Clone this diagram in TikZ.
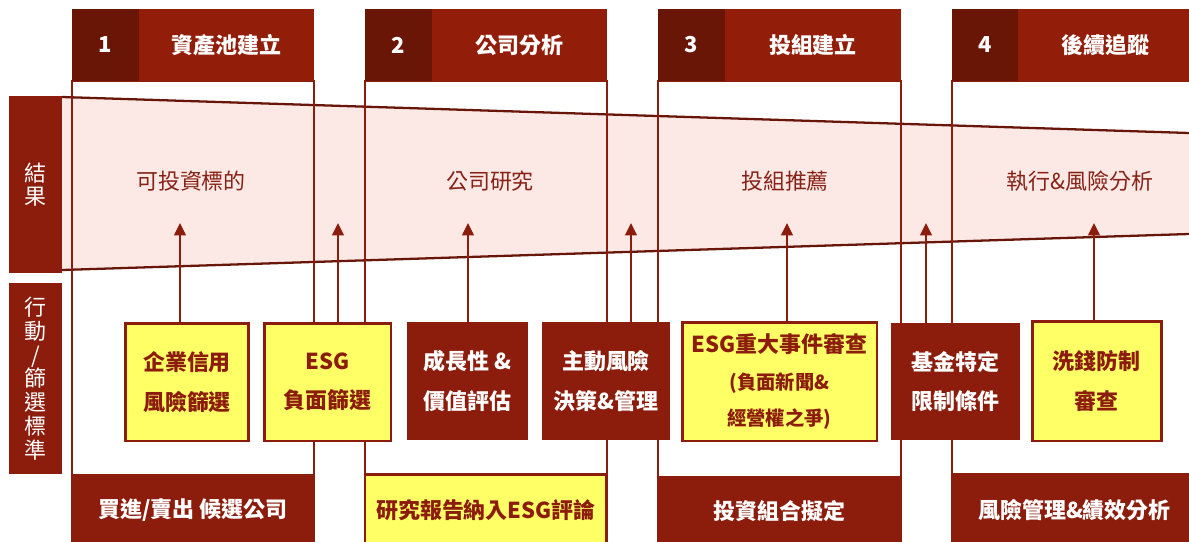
\documentclass[tikz,border=0pt]{standalone}
\usepackage{fontspec}
\setmainfont{Noto Sans CJK TC}
\usetikzlibrary{arrows.meta}
\definecolor{hdrred}{RGB}{146,30,10}
\definecolor{numred}{RGB}{106,22,6}
\definecolor{boxred}{RGB}{140,28,12}
\definecolor{edgered}{RGB}{105,22,10}
\definecolor{bandpink}{RGB}{252,233,230}
\definecolor{boxyel}{RGB}{255,255,102}
\definecolor{bandtxt}{RGB}{135,34,22}
\newcommand{\bigtxt}{\fontsize{12.5}{22.5}\selectfont\bfseries}

\begin{document}
\begin{tikzpicture}[x=0.02cm,y=-0.02cm]
\tikzstyle{every node}+=[inner sep=0pt,outer sep=0pt]
\tikzstyle{numbox}=[fill=numred,text=white,font=\bigtxt,minimum height=1.44cm,anchor=north west]
\tikzstyle{hdrbox}=[fill=hdrred,text=white,font=\bigtxt,minimum height=1.44cm,anchor=north west]
\tikzstyle{redbox}=[draw=boxred,fill=boxred,line width=1.5pt,text=white,font=\bigtxt,align=center]
\tikzstyle{yelbox}=[draw=boxred,fill=boxyel,line width=1.7pt,text=boxred,font=\bigtxt,align=center]
\tikzstyle{sidebox}=[fill=boxred,text=white,align=center,minimum width=1.06cm,
  font=\fontsize{12.5}{13.5}\selectfont]
\tikzstyle{frame}=[draw=boxred,line width=1.3pt]
\tikzstyle{bandedge}=[draw=edgered,line width=1.3pt]
\tikzstyle{result}=[text=bandtxt,font=\fontsize{12.5}{14}\selectfont]
\tikzstyle{uparrow}=[draw=boxred,line width=1.4pt,-{Triangle[width=6.5pt,length=7pt]}]
\clip (0,0) rectangle (1189,541);
\fill [bandpink] (62,97) -- (1189,133) -- (1189,234) -- (62,270) -- cycle;
\draw [bandedge] (62,97) -- (1189,133);
\draw [bandedge] (62,270) -- (1189,234);
\draw [frame] (72,81) rectangle (314,475);
\draw [frame] (365,81) rectangle (607,475);
\draw [frame] (658,81) rectangle (901,477);
\draw [frame] (952,81) rectangle (1200,475);
\node (n1) [numbox,minimum width=1.34cm] at (72,9) {1};
\node (h1) [hdrbox,minimum width=3.5cm] at (139,9) {資產池建立};
\node (n2) [numbox,minimum width=1.34cm] at (365,9) {2};
\node (h2) [hdrbox,minimum width=3.5cm] at (432,9) {公司分析};
\node (n3) [numbox,minimum width=1.34cm] at (658,9) {3};
\node (h3) [hdrbox,minimum width=3.52cm] at (725,9) {投組建立};
\node (n4) [numbox,minimum width=1.32cm] at (952,9) {4};
\node (h4) [hdrbox,minimum width=3.5cm] at (1018,9) {後續追蹤};
\node (r1) [result] at (191,181) {可投資標的};
\node (r2) [result] at (490,181) {公司研究};
\node (r3) [result] at (785,181) {投組推薦};
\node (r4) [result] at (1080,181) {執行\&風險分析};
\node (s1) [sidebox,minimum height=3.54cm] at (35.5,184.5) {結\\果};
\node (s2) [sidebox,minimum height=3.82cm] at (35.5,378.5) {行\\動\\/\\篩\\選\\標\\準};
\node (a1) [redbox,minimum width=4.84cm,minimum height=1.4cm,anchor=north west] at (72,475) {買進/賣出 候選公司};
\node (a2) [yelbox,minimum width=4.84cm,minimum height=1.44cm,anchor=north west] at (365,474) {研究報告納入ESG評論};
\node (a3) [redbox,minimum width=4.86cm,minimum height=1.36cm,anchor=north west] at (658,477) {投資組合擬定};
\node (a4) [redbox,minimum width=4.9cm,minimum height=1.44cm,anchor=north west] at (952,474) {風險管理\&績效分析};
\coordinate (t1) at (180,223);
\coordinate (t2) at (338,223);
\coordinate (t3) at (468,223);
\coordinate (t4) at (631,223);
\coordinate (t5) at (787,223);
\coordinate (t6) at (926,223);
\coordinate (t7) at (1094,223);
\node (b1) [yelbox,minimum width=2.48cm,minimum height=2.36cm] at (187,382) {企業信用\\風險篩選};
\node (b2) [yelbox,minimum width=2.54cm,minimum height=2.36cm] at (327.5,382) {ESG\\負面篩選};
\node (b3) [redbox,minimum width=2.38cm,minimum height=2.32cm] at (467.5,381) {成長性 \&\\價值評估};
\node (b4) [redbox,minimum width=2.52cm,minimum height=2.32cm] at (606,381) {主動風險\\決策\&管理};
\node (b5) [yelbox,minimum width=3.9cm,minimum height=2.38cm,font=\fontsize{12.5}{21}\selectfont\bfseries] at (779.5,381.5)
  {ESG重大事件審查\\{\fontsize{11}{21}\selectfont (負面新聞\&}\\{\fontsize{11}{21}\selectfont 經營權之爭)}};
\node (b6) [redbox,minimum width=2.54cm,minimum height=2.3cm] at (955.5,381.5) {基金特定\\限制條件};
\node (b7) [yelbox,minimum width=2.58cm,minimum height=2.4cm] at (1096.5,381) {洗錢防制\\審查};
\draw [uparrow] (t1 |- b1.north) -- (t1);
\draw [uparrow] (t2 |- b2.north) -- (t2);
\draw [uparrow] (t3 |- b3.north) -- (t3);
\draw [uparrow] (t4 |- b4.north) -- (t4);
\draw [uparrow] (t5 |- b5.north) -- (t5);
\draw [uparrow] (t6 |- b6.north) -- (t6);
\draw [uparrow] (t7 |- b7.north) -- (t7);
\end{tikzpicture}
\end{document}
